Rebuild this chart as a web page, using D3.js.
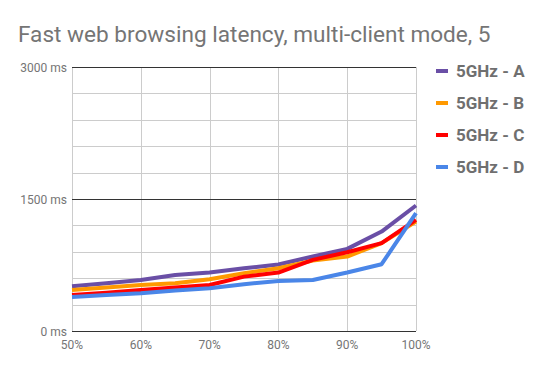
<!doctype html>
<html>
<head>
<meta charset="utf-8">
<title>Fast web browsing latency</title>
<style>
  body { margin: 0; background: #fff; }
  text { font-family: Roboto, sans-serif; }
</style>
</head>
<body>
<svg id="chart" width="546" height="371"></svg>
<script src="https://d3js.org/d3.v7.min.js"></script>
<script>
// load levels (%)
const loads = [50, 55, 60, 65, 70, 75, 80, 85, 90, 95, 100];
const xTicks = [50, 60, 70, 80, 90, 100];
const yTicks = [0, 1500, 3000];

const seriesNames = ["5GHz - A", "5GHz - B", "5GHz - C", "5GHz - D"];
const seriesColors = ["#6a4fa6", "#ff9900", "#ff0000", "#4a86e8"];

// latency in ms
const latA = [508, 542, 580, 637, 664, 713, 755, 846, 933, 1130, 1426];
const latB = [467, 493, 523, 542, 588, 656, 713, 800, 846, 998, 1244];
const latC = [410, 436, 467, 493, 523, 618, 664, 808, 895, 998, 1263];
const latD = [387, 410, 429, 459, 486, 531, 569, 580, 664, 759, 1339];
const allLat = [latA, latB, latC, latD];

const svg = d3.select("#chart");

const plotLeft = 72, plotRight = 416, plotTop = 67, plotBottom = 331;

const x = d3.scaleLinear().domain([50, 100]).range([plotLeft, plotRight]);
const y = d3.scaleLinear().domain([0, 3000]).range([plotBottom, plotTop]);

// title
svg.append("text")
  .attr("x", 18)
  .attr("y", 42)
  .attr("font-size", "22.6px")
  .attr("fill", "#757575")
  .text("Fast web browsing latency, multi-client mode, 5");

// minor horizontal grid every 300 ms
const grid = svg.append("g");
grid.selectAll("line.h")
  .data(d3.range(300, 3000, 300).filter(v => v !== 1500))
  .enter().append("line")
  .attr("x1", plotLeft).attr("x2", plotRight)
  .attr("y1", d => Math.round(y(d)) + 0.5).attr("y2", d => Math.round(y(d)) + 0.5)
  .attr("stroke", "#cccccc").attr("stroke-width", 1);

// vertical grid
grid.selectAll("line.v")
  .data(xTicks)
  .enter().append("line")
  .attr("x1", d => Math.round(x(d)) + 0.5).attr("x2", d => Math.round(x(d)) + 0.5)
  .attr("y1", plotTop).attr("y2", plotBottom)
  .attr("stroke", "#cccccc").attr("stroke-width", 1);

// major horizontal lines
grid.selectAll("line.major")
  .data(yTicks)
  .enter().append("line")
  .attr("x1", plotLeft).attr("x2", plotRight)
  .attr("y1", d => Math.round(y(d)) + 0.5).attr("y2", d => Math.round(y(d)) + 0.5)
  .attr("stroke", "#333333").attr("stroke-width", 1);

// y axis labels
svg.append("g").selectAll("text")
  .data(yTicks)
  .enter().append("text")
  .attr("x", plotLeft - 5)
  .attr("y", d => y(d) + 5)
  .attr("text-anchor", "end")
  .attr("font-size", "12px")
  .attr("fill", "#757575")
  .text(d => d + " ms");

// x axis labels
svg.append("g").selectAll("text")
  .data(xTicks)
  .enter().append("text")
  .attr("x", d => x(d))
  .attr("y", 349)
  .attr("text-anchor", "middle")
  .attr("font-size", "12px")
  .attr("fill", "#757575")
  .text(d => d + "%");

// lines
const line = d3.line()
  .x((d, i) => x(loads[i]))
  .y(d => y(d));

svg.append("g").selectAll("path")
  .data(allLat)
  .enter().append("path")
  .attr("d", line)
  .attr("fill", "none")
  .attr("stroke", (d, i) => seriesColors[i])
  .attr("stroke-width", 4)
  .attr("stroke-linejoin", "round");

// legend
const legend = svg.append("g").selectAll("g")
  .data(seriesNames)
  .enter().append("g")
  .attr("transform", (d, i) => "translate(436," + (71 + i * 32) + ")");

legend.append("rect")
  .attr("x", 0).attr("y", -2)
  .attr("width", 12).attr("height", 4)
  .attr("fill", (d, i) => seriesColors[i]);

legend.append("text")
  .attr("x", 20)
  .attr("y", 6)
  .attr("font-size", "17px")
  .attr("font-weight", "bold")
  .attr("fill", "#6f6f6f")
  .text(d => d);
</script>
</body>
</html>
